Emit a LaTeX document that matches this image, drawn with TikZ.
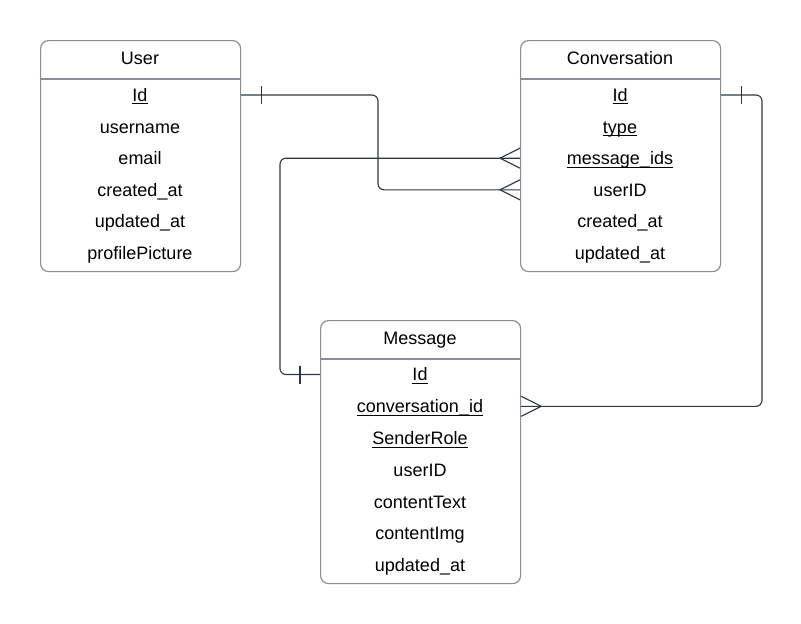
\documentclass[tikz,border=0pt]{standalone}
\usepackage{fontspec}
\setmainfont{Liberation Sans}
\usetikzlibrary{positioning}
\definecolor{boxgray}{HTML}{8A8D93}
\definecolor{linedark}{HTML}{2F3542}
\newcommand{\keyattr}[1]{\setbox0\hbox{#1}\rlap{\rule[-3pt]{\wd0}{1pt}}\box0}
\tikzset{
  entity/.style={draw=boxgray, line width=1.2pt, rounded corners=8pt,
    minimum width=200pt, anchor=north west, inner sep=0pt},
  attr/.style={font=\fontsize{18}{21}\selectfont, inner sep=0pt,
    text height=12.8pt, text depth=0pt},
  divider/.style={draw=boxgray, line width=1.2pt},
  rel/.style={draw=linedark, line width=1.1pt, rounded corners=6pt},
  crow/.style={draw=linedark, line width=1.1pt},
}

\begin{document}
\begin{tikzpicture}[x=1pt, y=-1pt]
\useasboundingbox (0,0) rectangle (801,624);

% User
\node[entity, minimum height=231pt] (user) at (40,40) {};
\node[attr] (user-title) at (140,58) {User};
\draw[divider] (40,79) -- (240,79);
\foreach \t [count=\i] in {\keyattr{Id}, username, email, created\_at,
    updated\_at, profilePicture}
  \node[attr] (user-\i) at (140,{95+31.6*(\i-1)}) {\t};

% Conversation
\node[entity, minimum height=231pt] (conv) at (520,40) {};
\node[attr] (conv-title) at (620,58) {Conversation};
\draw[divider] (520,79) -- (720,79);
\foreach \t [count=\i] in {\keyattr{Id}, \keyattr{type}, \keyattr{message\_ids},
    userID, created\_at, updated\_at}
  \node[attr] (conv-\i) at (620,{95+31.6*(\i-1)}) {\t};

% Message
\node[entity, minimum height=263pt] (msg) at (320,320) {};
\node[attr] (msg-title) at (420,338) {Message};
\draw[divider] (320,359) -- (520,359);
\foreach \t [count=\i] in {\keyattr{Id}, \keyattr{conversation\_id},
    \keyattr{SenderRole}, userID, contentText, contentImg, updated\_at}
  \node[attr] (msg-\i) at (420,{374.5+31.8*(\i-1)}) {\t};

% User -- Conversation
\draw[rel] (user-1 -| user.east) -| (378,0 |- conv-4) -- (conv-4 -| conv.west);
\draw[crow] (user-1 -| user.east) ++(20,-9) -- ++(0,18);
\draw[crow] (conv-4 -| conv.west) ++(0,-10) -- ++(-20,10) -- ++(20,10);

% Message -- Conversation
\draw[rel] (msg-1 -| msg.west) -| (280,0 |- conv-3) -- (conv-3 -| conv.west);
\draw[crow] (msg-1 -| msg.west) ++(-20,-9) -- ++(0,18);
\draw[crow] (conv-3 -| conv.west) ++(0,-10) -- ++(-20,10) -- ++(20,10);

% Conversation -- Message
\draw[rel] (conv-1 -| conv.east) -| (762,0 |- msg-2) -- (msg-2 -| msg.east);
\draw[crow] (conv-1 -| conv.east) ++(20,-9) -- ++(0,18);
\draw[crow] (msg-2 -| msg.east) ++(0,-10) -- ++(20,10) -- ++(-20,10);
\end{tikzpicture}
\end{document}
